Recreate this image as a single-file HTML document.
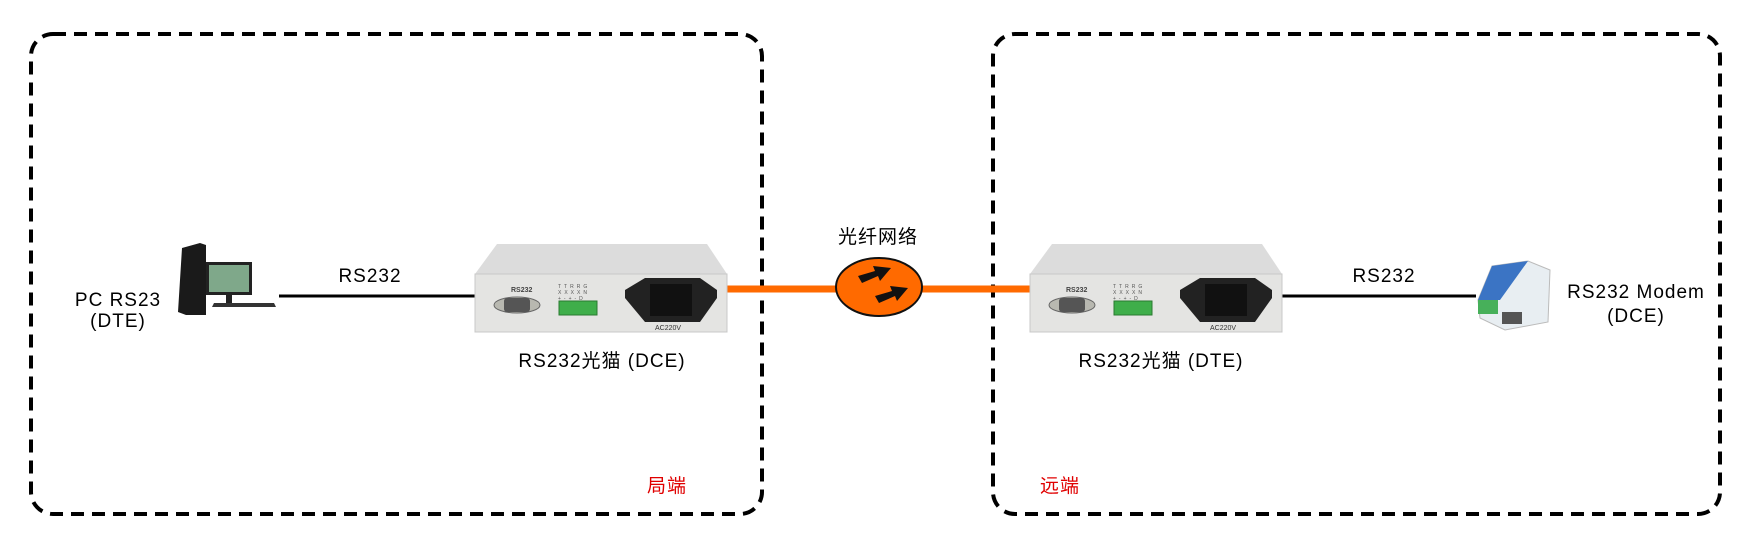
<!DOCTYPE html>
<html><head><meta charset="utf-8"><style>
html,body{margin:0;padding:0;background:#fff;}
svg{display:block;}
text{font-family:"Liberation Sans","Noto Sans CJK SC",sans-serif;}
</style></head><body>
<svg width="1752" height="546" viewBox="0 0 1752 546" xmlns="http://www.w3.org/2000/svg">
<defs>
<g id="dev">
  <polygon points="22,0 232,0 252,30 0,30" fill="#dcdcdc"/>
  <rect x="0" y="30" width="252" height="58" fill="#e4e4e2" stroke="#c8c8c8"/>
  <text x="36" y="48" font-size="7" font-weight="bold" fill="#444">RS232</text>
  <ellipse cx="42" cy="61" rx="23" ry="8" fill="#b8b8b0" stroke="#666"/>
  <rect x="29" y="54" width="26" height="14" rx="3" fill="#555"/>
  <rect x="84" y="57" width="38" height="14" fill="#3fae4a" stroke="#2a7a30"/>
  <text x="83" y="44" font-size="5" fill="#555" letter-spacing="3">TTRRG</text>
  <text x="83" y="50" font-size="5" fill="#555" letter-spacing="3">XXXXN</text>
  <text x="83" y="56" font-size="5" fill="#555" letter-spacing="3">+-+-D</text>
  <path d="M150,46 L170,34 L225,34 L242,46 L242,54 L225,78 L170,78 L150,54 Z" fill="#222"/>
  <rect x="175" y="40" width="42" height="32" fill="#111"/>
  <text x="180" y="86" font-size="7" fill="#333">AC220V</text>
</g>
</defs>
<!-- dashed boxes -->
<rect x="31" y="34" width="731" height="480" rx="22" fill="none" stroke="#000" stroke-width="4" stroke-dasharray="13,8"/>
<rect x="993" y="34" width="727" height="480" rx="22" fill="none" stroke="#000" stroke-width="4" stroke-dasharray="13,8"/>
<!-- lines -->
<line x1="279" y1="296" x2="475" y2="296" stroke="#000" stroke-width="3"/>
<line x1="1281" y1="296" x2="1476" y2="296" stroke="#000" stroke-width="3"/>
<line x1="727" y1="289" x2="1030" y2="289" stroke="#ff6a00" stroke-width="7"/>
<!-- fiber cloud -->
<ellipse cx="879" cy="287" rx="43" ry="29" fill="#ff6a00" stroke="#111" stroke-width="2"/>
<polygon points="858,276 875,271 873,266 891,268 880,281 878,276 862,283" fill="#111"/>
<polygon points="875,296 892,291 890,286 908,288 897,301 895,296 879,303" fill="#111"/>
<!-- devices -->
<use href="#dev" x="475" y="244"/>
<use href="#dev" x="1030" y="244"/>
<!-- PC -->
<polygon points="182,248 200,243 206,245 206,315 186,315 178,312" fill="#1a1a1a"/>
<rect x="206" y="262" width="46" height="33" fill="#222"/>
<rect x="209" y="265" width="40" height="27" fill="#7fa88a"/>
<rect x="226" y="295" width="6" height="8" fill="#222"/>
<polygon points="214,303 274,303 276,307 212,307" fill="#333"/>
<!-- Modem -->
<polygon points="1492,266 1528,261 1550,270 1548,322 1505,330 1480,318 1478,300" fill="#e8eef2" stroke="#bbb"/>
<polygon points="1492,266 1528,261 1500,300 1478,300" fill="#3b74c4"/>
<rect x="1478" y="300" width="20" height="14" fill="#47b05a"/>
<rect x="1502" y="312" width="20" height="12" fill="#555"/>
<!-- text -->
<g font-size="19" fill="#000" letter-spacing="1">
<text x="118" y="306" text-anchor="middle">PC RS23</text>
<text x="118" y="327" text-anchor="middle">(DTE)</text>
<text x="370" y="282" text-anchor="middle">RS232</text>
<text x="1384" y="282" text-anchor="middle">RS232</text>
<text x="602" y="367" text-anchor="middle">RS232光猫 (DCE)</text>
<text x="1161" y="367" text-anchor="middle">RS232光猫 (DTE)</text>
<text x="878" y="243" text-anchor="middle">光纤网络</text>
<text x="1636" y="298" text-anchor="middle">RS232 Modem</text>
<text x="1636" y="322" text-anchor="middle">(DCE)</text>
<text x="667" y="492" text-anchor="middle" fill="#e00000">局端</text>
<text x="1060" y="492" text-anchor="middle" fill="#e00000">远端</text>
</g>
</svg>
</body></html>
